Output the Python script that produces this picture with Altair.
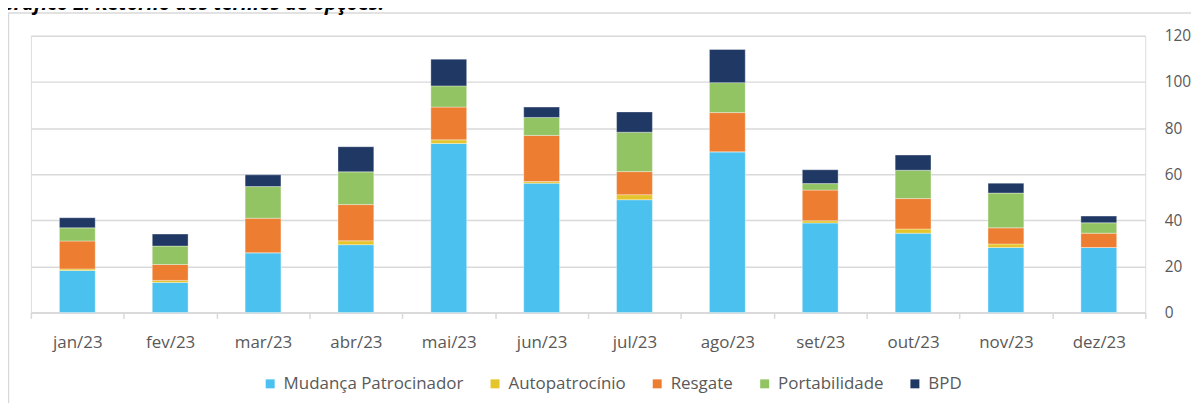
import altair as alt
import pandas as pd

months = ["jan/23", "fev/23", "mar/23", "abr/23", "mai/23", "jun/23",
          "jul/23", "ago/23", "set/23", "out/23", "nov/23", "dez/23"]
series = ["Mudança Patrocinador", "Autopatrocínio", "Resgate", "Portabilidade", "BPD"]

mudanca = [18.2, 13.0, 25.9, 29.4, 73.3, 56.1, 48.9, 69.7, 38.8, 34.4, 28.2, 28.2]
autopatrocinio = [0.7, 0.9, 0.0, 1.7, 1.6, 0.7, 2.2, 0.0, 1.0, 1.8, 1.5, 0.0]
resgate = [12.1, 6.9, 15.0, 15.7, 14.2, 20.0, 10.0, 17.0, 13.3, 13.2, 7.0, 6.2]
portabilidade = [5.7, 8.0, 13.7, 14.2, 9.2, 7.8, 17.1, 13.0, 2.8, 12.3, 15.1, 4.5]
bpd = [4.4, 5.2, 5.1, 10.9, 11.6, 4.5, 8.8, 14.4, 6.0, 6.6, 4.3, 2.9]

colors = ["#4AC1EE", "#E6C42B", "#ED7D31", "#93C463", "#203864"]
y_ticks = [0, 20, 40, 60, 80, 100, 120]
title_text = "Gráfico 2: Retorno dos termos de opções."

values = [mudanca, autopatrocinio, resgate, portabilidade, bpd]
rows = []
for si, (name, vals) in enumerate(zip(series, values)):
    for m, v in zip(months, vals):
        rows.append({"Mês": m, "Série": name, "Valor": v, "ordem": si})
df = pd.DataFrame(rows)

FONT = "Open Sans"
GRID = "#D9D9D9"
TXT = "#595959"

bars = alt.Chart(df).mark_bar(size=36, stroke="white", strokeWidth=0.5, strokeOpacity=0.7).encode(
    x=alt.X("Mês:N", sort=months,
            scale=alt.Scale(paddingInner=0, paddingOuter=0),
            axis=alt.Axis(title=None, labelAngle=0, tickBand="extent",
                          domainColor=GRID, domainWidth=1.5, tickColor=GRID,
                          tickWidth=1.5, tickSize=6, labelColor=TXT,
                          labelFontSize=17, labelFont=FONT, labelPadding=16,
                          grid=False)),
    y=alt.Y("Valor:Q", stack="zero",
            scale=alt.Scale(domain=[0, 120], nice=False),
            axis=alt.Axis(orient="right", values=y_ticks, title=None,
                          domain=False, ticks=False, gridColor=GRID,
                          gridWidth=1.5, labelColor=TXT, labelFontSize=15.5,
                          labelFont=FONT, labelPadding=19, labelAlign="left")),
    color=alt.Color("Série:N", sort=series,
                    scale=alt.Scale(domain=series, range=colors),
                    legend=alt.Legend(title=None, orient="none", legendX=232,
                                      legendY=341, direction="horizontal",
                                      symbolType="square", symbolSize=81,
                                      symbolStrokeWidth=0, labelFontSize=17,
                                      labelFont=FONT, labelColor=TXT,
                                      columnPadding=23, labelOffset=5,
                                      padding=0, labelLimit=400)),
    order=alt.Order("ordem:Q", sort="ascending"),
)

frame = alt.Chart(pd.DataFrame({"a": [0]})).mark_rect(
    fill="transparent", stroke=GRID, strokeWidth=1.5
).encode(x=alt.value(-22.5), x2=alt.value(1200), y=alt.value(-23), y2=alt.value(420))

title = alt.Chart(pd.DataFrame({"t": [title_text]})).mark_text(
    align="left", baseline="alphabetic", fontStyle="italic", fontWeight="bold",
    fontSize=20, font=FONT, color="#000000"
).encode(text="t:N", x=alt.value(-31), y=alt.value(-26))

chart = alt.layer(frame, bars, title).properties(
    width=1120, height=278,
    autosize=alt.AutoSizeParams(type="none"),
    padding={"left": 23, "top": 27, "right": 46, "bottom": 90},
).configure_view(stroke=None).configure(font=FONT)

chart.save("out.html", embed_options={"renderer": "svg", "actions": False})
